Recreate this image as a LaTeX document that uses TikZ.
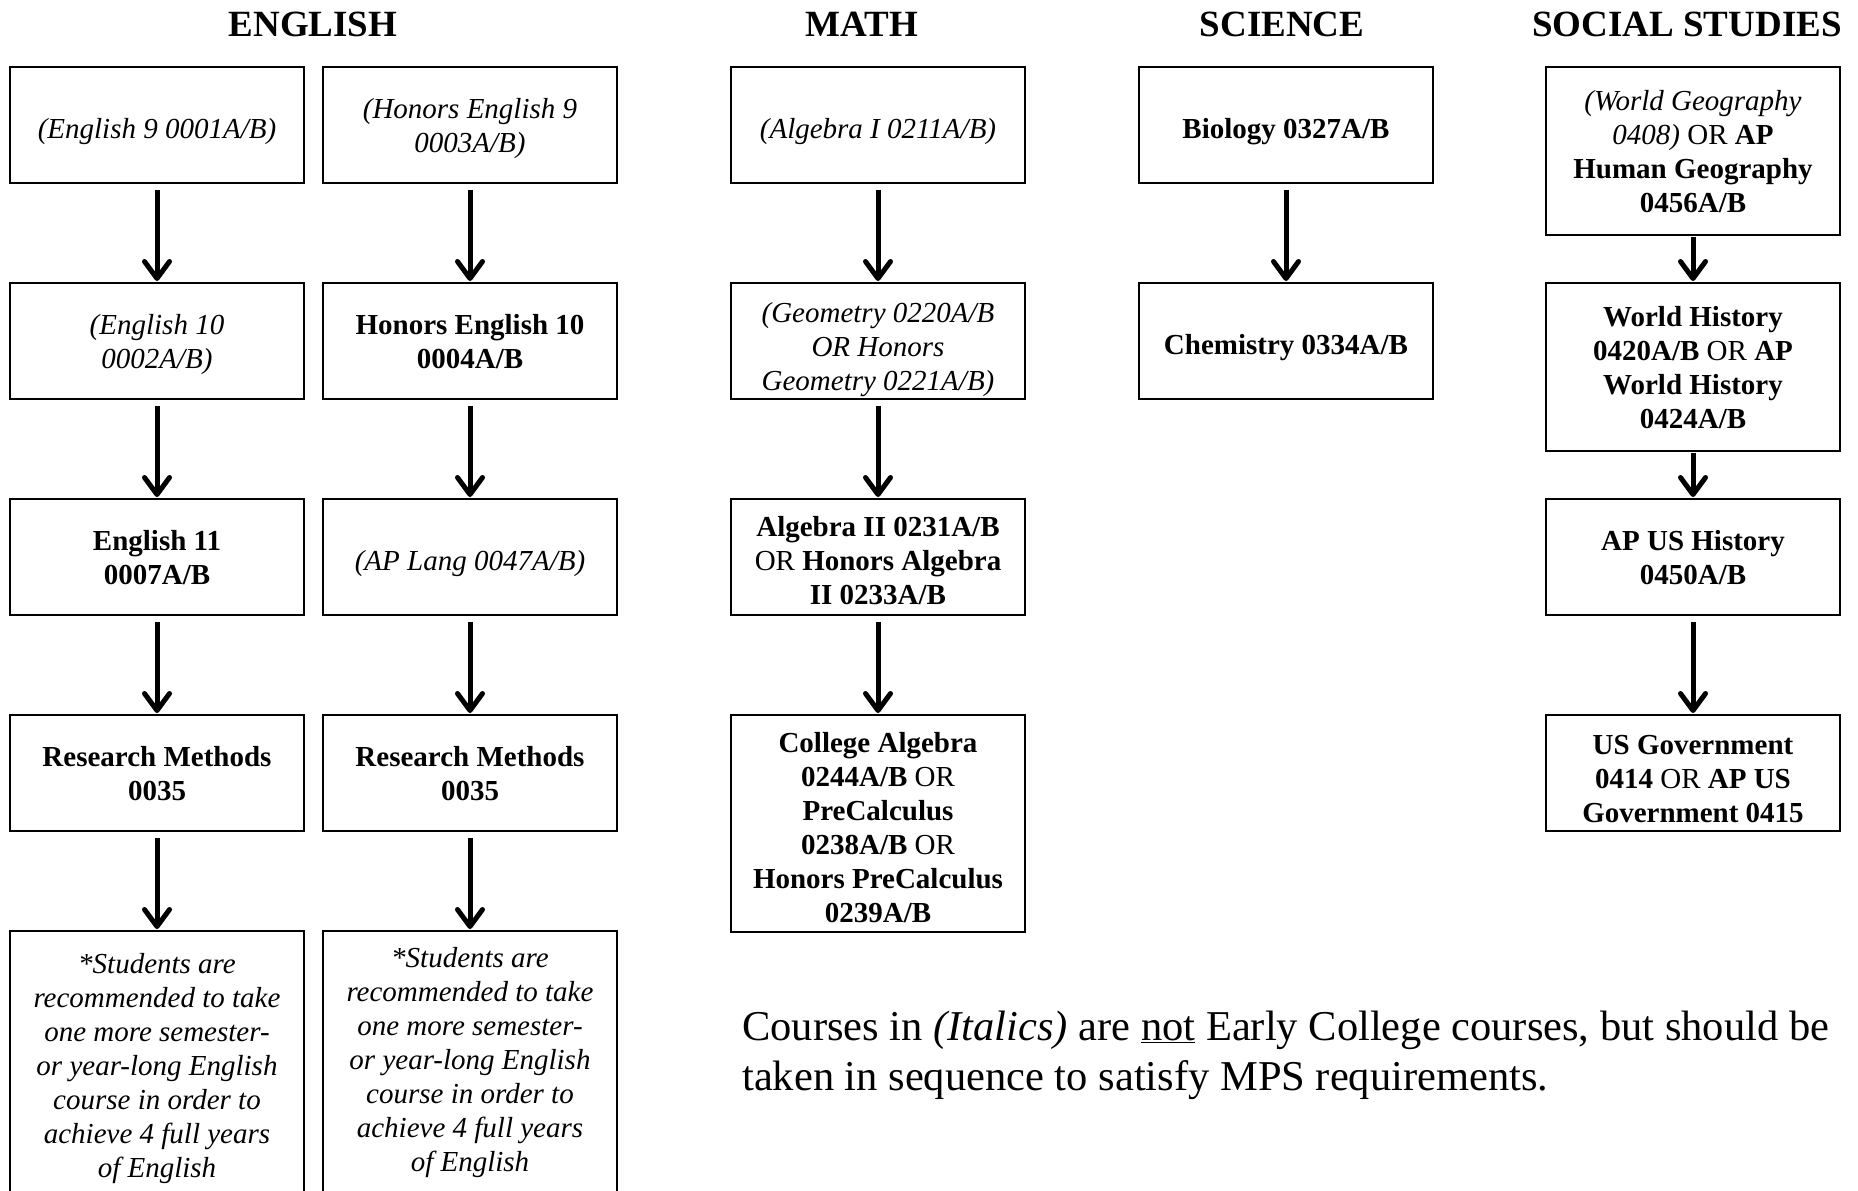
\documentclass[tikz,border=0pt]{standalone}
\usepackage{fontspec}
\setmainfont{Liberation Serif}
\usetikzlibrary{arrows.meta}

\tikzset{
  course/.style={draw, line width=2pt, minimum width=294pt, minimum height=116pt,
    inner sep=4pt, align=center, text depth=0pt, font=\fontsize{29}{34}\selectfont},
  early/.style={course, font=\fontsize{29}{34}\selectfont\bfseries},
  notearly/.style={course, font=\fontsize{29}{34}\selectfont\itshape},
  oneline/.style={text height=26pt},
  reminder/.style={notearly, minimum height=268pt},
  heading/.style={font=\fontsize{37}{44}\selectfont\bfseries},
  flow/.style={line width=5pt, -{Straight Barb[length=17pt,width=25pt,round]},
    shorten <=6pt, shorten >=1pt},
}

\begin{document}
\begin{tikzpicture}[x=1pt, y=-1pt]
    % Page
    \useasboundingbox (0,0) rectangle (1858,1191);
    % Headings
    \node[heading] (english) at (313,24) {ENGLISH};
    \node[heading] (math) at (862,24) {MATH};
    \node[heading] (science) at (1282,24) {SCIENCE};
    \node[heading] (social) at (1687,24) {SOCIAL STUDIES};
    % English, regular track
    \node[notearly, oneline] (eng9) at (157,125) {(English 9 0001A/B)};
    \node[notearly] (eng10) at (157,341) {(English 10\\0002A/B)};
    \node[early] (eng11) at (157,557) {English 11\\0007A/B};
    \node[early] (resA) at (157,773) {Research Methods\\0035};
    \node[reminder] (moreA) at (157,1065) {*Students are\\recommended to take\\one more semester-\\or year-long English\\course in order to\\achieve 4 full years\\of English};
    % English, honors track
    \node[notearly] (hon9) at (470,125) {(Honors English 9\\0003A/B)};
    \node[early] (hon10) at (470,341) {Honors English 10\\0004A/B};
    \node[notearly, oneline] (lang) at (470,557) {(AP Lang 0047A/B)};
    \node[early] (resB) at (470,773) {Research Methods\\0035};
    \node[reminder, text depth=12pt] (moreB) at (470,1065) {*Students are\\recommended to take\\one more semester-\\or year-long English\\course in order to\\achieve 4 full years\\of English};
    % Math
    \node[notearly, oneline] (alg1) at (878,125) {(Algebra I 0211A/B)};
    \node[notearly, text height=98pt] (geom) at (878,341) {(Geometry 0220A/B\\OR Honors\\Geometry 0221A/B)};
    \node[course, text height=94pt] (alg2) at (878,557) {\textbf{Algebra II 0231A/B}\\OR \textbf{Honors Algebra}\\\textbf{II 0233A/B}};
    \node[course, text height=197pt, minimum height=217pt] (college) at (878,823.5) {\textbf{College Algebra}\\\textbf{0244A/B} OR\\\textbf{PreCalculus}\\\textbf{0238A/B} OR\\\textbf{Honors PreCalculus}\\\textbf{0239A/B}};
    % Science
    \node[early, oneline] (bio) at (1286,125) {Biology 0327A/B};
    \node[early, oneline] (chem) at (1286,341) {Chemistry 0334A/B};
    % Social studies
    \node[course, minimum height=168pt] (geo) at (1693,151) {\textit{(World Geography}\\\textit{0408)} OR \textbf{AP}\\\textbf{Human Geography}\\\textbf{0456A/B}};
    \node[course, minimum height=168pt] (world) at (1693,367) {\textbf{World History}\\\textbf{0420A/B} OR \textbf{AP}\\\textbf{World History}\\\textbf{0424A/B}};
    \node[early] (apush) at (1693,557) {AP US History\\0450A/B};
    \node[course, text height=98pt] (gov) at (1693,773) {\textbf{US Government}\\\textbf{0414} OR \textbf{AP US}\\\textbf{Government 0415}};
    % Sequence arrows
    \draw[flow] (eng9) -- (eng10);
    \draw[flow] (eng10) -- (eng11);
    \draw[flow] (eng11) -- (resA);
    \draw[flow] (resA) -- (moreA);
    \draw[flow] (hon9) -- (hon10);
    \draw[flow] (hon10) -- (lang);
    \draw[flow] (lang) -- (resB);
    \draw[flow] (resB) -- (moreB);
    \draw[flow] (alg1) -- (geom);
    \draw[flow] (geom) -- (alg2);
    \draw[flow] (alg2) -- (college);
    \draw[flow] (bio) -- (chem);
    \draw[flow, shorten <=1pt] (geo) -- (world);
    \draw[flow, shorten <=1pt] (world) -- (apush);
    \draw[flow] (apush) -- (gov);
    % Legend
    \node[anchor=north west, inner sep=0pt, align=left, font=\fontsize{42.5}{49.5}\selectfont] (legend) at (742,1011)
      {Courses in \textit{(Italics)} are \underline{not} Early College courses, but should be\\taken in sequence to satisfy MPS requirements.};
\end{tikzpicture}
\end{document}
